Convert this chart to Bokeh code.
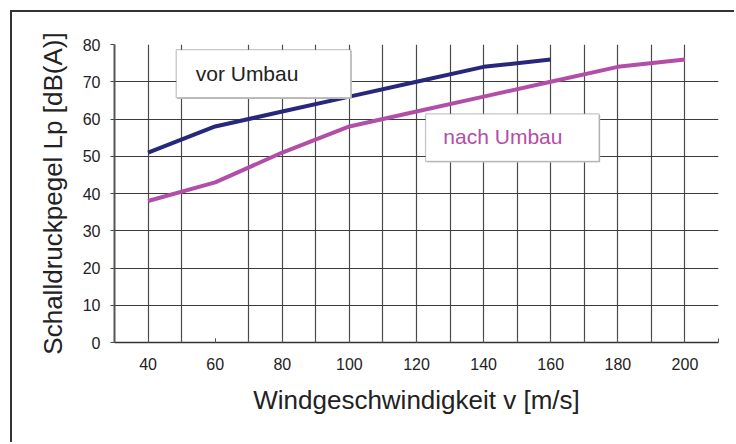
from bokeh.plotting import figure
from bokeh.models import FixedTicker, Range1d, BoxAnnotation, Label
from bokeh.embed import file_html
from bokeh.resources import INLINE

# ---- data ----
speed_vor = [40, 60, 80, 100, 120, 140, 160]
level_vor = [51, 58, 62, 66, 70, 74, 76]
speed_nach = [40, 60, 80, 100, 120, 140, 160, 180, 200]
level_nach = [38, 43, 51, 58, 62, 66, 70, 74, 76]
series_names = ["vor Umbau", "nach Umbau"]
x_tick_values = [40, 60, 80, 100, 120, 140, 160, 180, 200]
x_minor_values = [30, 40, 50, 60, 70, 80, 90, 100, 110, 120, 130, 140, 150, 160, 170, 180, 190, 200, 210]
x_grid_values = [40, 50, 70, 80, 90, 100, 110, 120, 130, 140, 150, 160, 170, 180, 190, 200]
y_tick_values = [0, 10, 20, 30, 40, 50, 60, 70, 80]
y_grid_values = [10, 20, 30, 40, 50, 60, 70]
x_label = "Windgeschwindigkeit v [m/s]"
y_label = "Schalldruckpegel Lp [dB(A)]"

FONT = "Liberation Sans"
NAVY = "#27287c"
MAGENTA = "#b24ea8"
TEXT = "#222222"

p = figure(width=724, height=432, output_backend="svg", toolbar_location=None,
           x_range=Range1d(30, 210), y_range=Range1d(0, 80),
           min_border_left=102, min_border_right=18, min_border_top=32, min_border_bottom=102)
p.styles = {"border-left": "2px solid #333333", "border-top": "2px solid #333333",
            "margin-left": "10px", "margin-top": "10px"}
p.outline_line_color = None
p.background_fill_color = "white"
p.border_fill_color = "white"

# grid
p.xgrid.ticker = FixedTicker(ticks=x_grid_values)
p.ygrid.ticker = FixedTicker(ticks=y_grid_values)
p.xgrid.grid_line_color = "#4a4a4a"
p.ygrid.grid_line_color = "#3a3a3a"
p.xgrid.grid_line_width = 1.2
p.ygrid.grid_line_width = 1.2

# x axis
xa = p.xaxis[0]
xa.ticker = FixedTicker(ticks=x_tick_values, minor_ticks=x_minor_values)
xa.axis_line_color = "#333333"
xa.axis_line_width = 1.5
xa.major_tick_in = 4
xa.major_tick_out = 0
xa.minor_tick_in = 4
xa.minor_tick_out = 0
xa.major_tick_line_color = "#555555"
xa.minor_tick_line_color = "#555555"
xa.major_label_text_font = FONT
xa.major_label_text_font_size = "16px"
xa.major_label_text_color = TEXT
xa.major_label_standoff = 15
xa.axis_label = x_label
xa.axis_label_text_font = FONT
xa.axis_label_text_font_size = "26px"
xa.axis_label_text_font_style = "normal"
xa.axis_label_text_color = TEXT
xa.axis_label_standoff = 12

# y axis
ya = p.yaxis[0]
ya.ticker = FixedTicker(ticks=y_tick_values)
ya.axis_line_color = "#555555"
ya.axis_line_width = 2
ya.major_tick_in = 0
ya.major_tick_out = 4
ya.minor_tick_line_color = None
ya.major_tick_line_color = "#444444"
ya.major_label_text_font = FONT
ya.major_label_text_font_size = "16px"
ya.major_label_text_color = TEXT
ya.major_label_standoff = 10
ya.axis_label = y_label
ya.axis_label_text_font = FONT
ya.axis_label_text_font_size = "26px"
ya.axis_label_text_font_style = "normal"
ya.axis_label_text_color = TEXT
ya.axis_label_standoff = 12

# text boxes
for (l, r, t, b) in [(48.4, 100.4, 78.6, 65.7), (122.7, 174.4, 61.4, 48.6)]:
    p.add_layout(BoxAnnotation(left=l + 0.35, right=r + 0.35, top=t - 0.3, bottom=b - 0.3,
                               fill_color="#cccccc", fill_alpha=1, line_color=None, level="glyph"))
    p.add_layout(BoxAnnotation(left=l, right=r, top=t, bottom=b, fill_color="white", fill_alpha=1,
                               line_color="#444444", line_width=1.3, level="glyph"))

p.add_layout(Label(x=54.2, y=72.3, text=series_names[0], text_font=FONT, text_font_size="21px",
                   text_color=TEXT, text_baseline="middle", text_align="left"))
p.add_layout(Label(x=128.0, y=55.3, text=series_names[1], text_font=FONT, text_font_size="21px",
                   text_color=MAGENTA, text_baseline="middle", text_align="left"))

# lines
p.line(speed_vor, level_vor, line_color=NAVY, line_width=4)
p.line(speed_nach, level_nach, line_color=MAGENTA, line_width=4)

open("out.html", "w").write(file_html(p, INLINE))
